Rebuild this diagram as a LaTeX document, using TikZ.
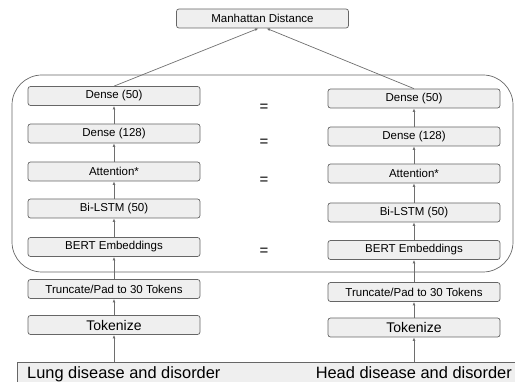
\documentclass[tikz,border=0pt]{standalone}
\usepackage{fontspec}
\setmainfont{Liberation Sans}
\usetikzlibrary{arrows.meta}
\definecolor{boxfill}{HTML}{EFEFEF}
\definecolor{boxline}{HTML}{666666}
\definecolor{arr}{HTML}{6E6E6E}
\tikzset{
  layer/.style={draw=boxline, fill=boxfill, rounded corners=2.5pt, line width=0.7pt,
    minimum width=172pt, minimum height=19pt, inner sep=0pt, font=\fontsize{11.5}{13}\selectfont},
  bigtext/.style={font=\fontsize{14}{16}\selectfont},
  flow/.style={draw=arr, line width=0.7pt, -{Latex[length=3.5pt,width=2.8pt]}},
  eqsign/.style={font=\fontsize{15}{17}\selectfont, inner sep=0pt},
  phrase/.style={font=\fontsize{16.4}{18}\selectfont, inner sep=0pt, anchor=base west}
}
\begin{document}
\begin{tikzpicture}[x=1pt,y=-1pt]
\useasboundingbox (0,0) rectangle (515,382);
% container
\draw[draw=boxline, line width=0.7pt, rounded corners=30pt] (12,75) rectangle (513,272);
% bottom band
\begin{scope}
\clip (0,0) rectangle (515,382);
\node[draw=boxline, fill=boxfill, line width=0.7pt, minimum width=510pt, minimum height=30pt, inner sep=0pt, anchor=north west] (band) at (17,362) {};
\end{scope}
\node[phrase] (srcL) at (27,378.5) {Lung disease and disorder};
\node[phrase, anchor=base east] (srcR) at (512,378.5) {Head disease and disorder};
% top
\node[layer] (md) at (262.5,18.5) {Manhattan Distance};
% left column
\node[layer] (d50L) at (114,96) {Dense (50)};
\node[layer] (d128L) at (114,133.5) {Dense (128)};
\node[layer] (attL) at (114,171.5) {Attention*};
\node[layer] (lstmL) at (114,208.5) {Bi-LSTM (50)};
\node[layer] (bertL) at (114,247) {BERT Embeddings};
\node[layer] (truncL) at (114,289) {Truncate/Pad to 30 Tokens};
\node[layer, bigtext] (tokL) at (114,325) {Tokenize};
% right column
\node[layer] (d50R) at (414,98.5) {Dense (50)};
\node[layer] (d128R) at (414,136.5) {Dense (128)};
\node[layer] (attR) at (414,173.5) {Attention*};
\node[layer] (lstmR) at (414,212.5) {Bi-LSTM (50)};
\node[layer] (bertR) at (414,250) {BERT Embeddings};
\node[layer] (truncR) at (414,292) {Truncate/Pad to 30 Tokens};
\node[layer, bigtext] (tokR) at (414,327.5) {Tokenize};
% equals
\node[eqsign] (eq1) at (264,108) {=};
\node[eqsign] (eq2) at (264,143) {=};
\node[eqsign] (eq3) at (264,181) {=};
\node[eqsign] (eq4) at (264,252) {=};
% connectors
\coordinate (inL) at (band.north -| tokL);
\coordinate (inR) at (band.north -| tokR);
\coordinate (mdL) at ([xshift=-4pt]md.south);
\coordinate (mdR) at ([xshift=4pt]md.south);
\draw[flow] (inL) -- (tokL);
\draw[flow] (tokL) -- (truncL);
\draw[flow] (truncL) -- (bertL);
\draw[flow] (bertL) -- (lstmL);
\draw[flow] (lstmL) -- (attL);
\draw[flow] (attL) -- (d128L);
\draw[flow] (d128L) -- (d50L);
\draw[flow] (inR) -- (tokR);
\draw[flow] (tokR) -- (truncR);
\draw[flow] (truncR) -- (bertR);
\draw[flow] (bertR) -- (lstmR);
\draw[flow] (lstmR) -- (attR);
\draw[flow] (attR) -- (d128R);
\draw[flow] (d128R) -- (d50R);
\draw[flow] (d50L.north) -- (mdL);
\draw[flow] (d50R.north) -- (mdR);
\end{tikzpicture}
\end{document}
